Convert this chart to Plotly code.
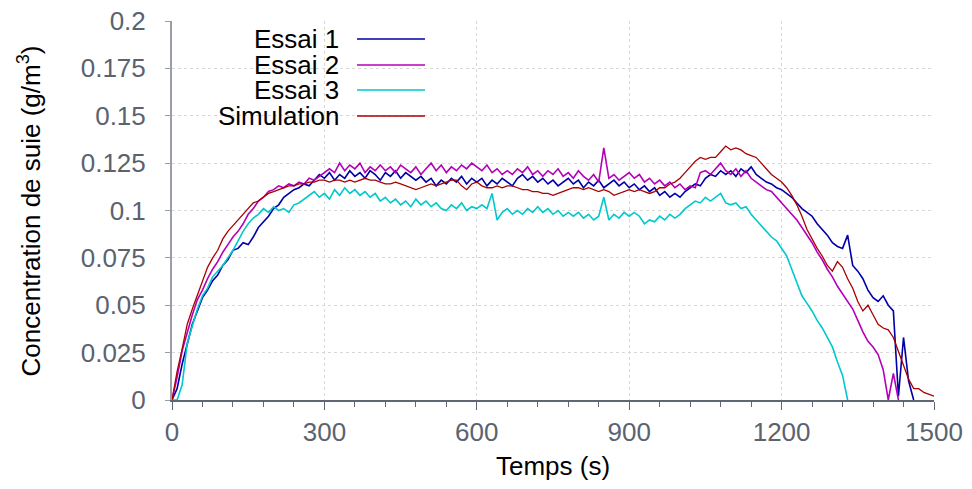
"""Concentration de suie: three tests against the simulation."""

import plotly.graph_objects as go

# sampling grid (s) shared by all series, every 10 s
temps = list(range(0, 1510, 10))

essai_1 = [
    0.000, 0.006, 0.019, 0.030, 0.040, 0.047, 0.054, 0.058, 0.063, 0.066,
    0.071, 0.074, 0.079, 0.080, 0.083, 0.082, 0.086, 0.091, 0.094, 0.097,
    0.101, 0.103, 0.107, 0.109, 0.111, 0.112, 0.114, 0.113, 0.116, 0.119,
    0.117, 0.120, 0.116, 0.119, 0.117, 0.121, 0.118, 0.120, 0.117, 0.121,
    0.119, 0.116, 0.120, 0.118, 0.121, 0.117, 0.120, 0.118, 0.116, 0.118,
    0.115, 0.117, 0.113, 0.116, 0.114, 0.117, 0.115, 0.118, 0.114, 0.117,
    0.115, 0.117, 0.113, 0.116, 0.114, 0.117, 0.115, 0.113, 0.117, 0.119,
    0.116, 0.118, 0.115, 0.117, 0.114, 0.116, 0.113, 0.115, 0.117, 0.114,
    0.116, 0.112, 0.115, 0.113, 0.116, 0.112, 0.114, 0.116, 0.113, 0.115,
    0.112, 0.114, 0.111, 0.113, 0.110, 0.112, 0.108, 0.110, 0.107, 0.109,
    0.107, 0.110, 0.112, 0.114, 0.113, 0.117, 0.119, 0.118, 0.121, 0.119,
    0.121, 0.118, 0.122, 0.120, 0.123, 0.119, 0.117, 0.115, 0.114, 0.112,
    0.111, 0.109, 0.107, 0.104, 0.101, 0.099, 0.097, 0.093, 0.090, 0.087,
    0.083, 0.081, 0.080, 0.087, 0.071, 0.068, 0.064, 0.058, 0.054, 0.052,
    0.055, 0.050, 0.047, 0.002, 0.033, 0.010, 0.000,
]

essai_2 = [
    0.000, 0.012, 0.026, 0.036, 0.045, 0.053, 0.058, 0.064, 0.069, 0.073,
    0.078, 0.082, 0.086, 0.089, 0.093, 0.098, 0.101, 0.105, 0.107, 0.110,
    0.111, 0.113, 0.112, 0.114, 0.113, 0.115, 0.114, 0.117, 0.116, 0.118,
    0.120, 0.122, 0.120, 0.125, 0.121, 0.124, 0.122, 0.125, 0.120, 0.123,
    0.121, 0.124, 0.121, 0.123, 0.120, 0.124, 0.122, 0.120, 0.123, 0.119,
    0.122, 0.125, 0.121, 0.124, 0.120, 0.123, 0.121, 0.124, 0.122, 0.125,
    0.123, 0.121, 0.124, 0.120, 0.122, 0.119, 0.121, 0.119, 0.122, 0.120,
    0.123, 0.119, 0.121, 0.118, 0.121, 0.119, 0.122, 0.118, 0.120, 0.117,
    0.121, 0.118, 0.116, 0.119, 0.115, 0.133, 0.117, 0.119, 0.116, 0.118,
    0.120, 0.117, 0.119, 0.115, 0.117, 0.114, 0.116, 0.113, 0.115, 0.112,
    0.114, 0.111, 0.113, 0.112, 0.120, 0.121, 0.119, 0.122, 0.125, 0.121,
    0.119, 0.122, 0.118, 0.121, 0.117, 0.115, 0.113, 0.111, 0.110, 0.107,
    0.104, 0.101, 0.098, 0.095, 0.091, 0.087, 0.083, 0.078, 0.074, 0.069,
    0.065, 0.060, 0.056, 0.052, 0.048, 0.042, 0.036, 0.031, 0.028, 0.024,
    0.016, 0.000, 0.014, 0.000,
]

essai_3 = [
    0.000, 0.000, 0.008, 0.030, 0.039, 0.048, 0.055, 0.059, 0.065, 0.068,
    0.071, 0.075, 0.079, 0.084, 0.089, 0.093, 0.096, 0.098, 0.101, 0.099,
    0.102, 0.100, 0.101, 0.099, 0.103, 0.104, 0.106, 0.108, 0.110, 0.107,
    0.109, 0.106, 0.111, 0.108, 0.112, 0.109, 0.111, 0.108, 0.110, 0.107,
    0.109, 0.105, 0.107, 0.104, 0.106, 0.103, 0.105, 0.102, 0.106, 0.103,
    0.105, 0.102, 0.104, 0.101, 0.100, 0.103, 0.101, 0.104, 0.100, 0.102,
    0.101, 0.103, 0.101, 0.109, 0.095, 0.099, 0.101, 0.098, 0.100, 0.098,
    0.101, 0.099, 0.102, 0.099, 0.101, 0.098, 0.100, 0.097, 0.099, 0.097,
    0.099, 0.096, 0.098, 0.095, 0.097, 0.107, 0.095, 0.098, 0.096, 0.099,
    0.097, 0.099, 0.097, 0.093, 0.095, 0.094, 0.097, 0.095, 0.098, 0.096,
    0.098, 0.101, 0.103, 0.105, 0.104, 0.107, 0.105, 0.107, 0.109, 0.104,
    0.103, 0.104, 0.101, 0.102, 0.098, 0.095, 0.092, 0.089, 0.086, 0.084,
    0.080, 0.076, 0.069, 0.062, 0.055, 0.051, 0.047, 0.042, 0.038, 0.033,
    0.028, 0.020, 0.013, 0.000,
]

simulation = [
    0.000, 0.015, 0.027, 0.040, 0.048, 0.055, 0.062, 0.070, 0.075, 0.079,
    0.085, 0.089, 0.092, 0.095, 0.098, 0.101, 0.104, 0.105, 0.107, 0.109,
    0.110, 0.111, 0.112, 0.113, 0.113, 0.114, 0.114, 0.115, 0.115, 0.116,
    0.116, 0.115, 0.116, 0.116, 0.115, 0.116, 0.115, 0.116, 0.117, 0.116,
    0.116, 0.115, 0.114, 0.114, 0.115, 0.114, 0.113, 0.112, 0.111, 0.112,
    0.113, 0.114, 0.113, 0.114, 0.115, 0.116, 0.116, 0.113, 0.111, 0.114,
    0.115, 0.113, 0.112, 0.112, 0.113, 0.112, 0.113, 0.113, 0.112, 0.111,
    0.111, 0.110, 0.110, 0.109, 0.109, 0.108, 0.109, 0.110, 0.111, 0.112,
    0.112, 0.111, 0.112, 0.111, 0.110, 0.111, 0.110, 0.108, 0.109, 0.110,
    0.111, 0.110, 0.111, 0.110, 0.109, 0.110, 0.112, 0.112, 0.114, 0.115,
    0.117, 0.120, 0.123, 0.126, 0.128, 0.127, 0.128, 0.128, 0.131, 0.134,
    0.132, 0.133, 0.132, 0.130, 0.129, 0.128, 0.125, 0.122, 0.119, 0.117,
    0.115, 0.112, 0.108, 0.103, 0.097, 0.090, 0.085, 0.080, 0.076, 0.071,
    0.068, 0.073, 0.070, 0.064, 0.059, 0.052, 0.047, 0.050, 0.045, 0.040,
    0.038, 0.037, 0.033, 0.026, 0.019, 0.011, 0.006, 0.006, 0.004, 0.003,
    0.002,
]

series_names = ["Essai 1", "Essai 2", "Essai 3", "Simulation"]
series_values = [essai_1, essai_2, essai_3, simulation]
series_colors = ["#0000a8", "#b400b8", "#00c8cc", "#a80000"]
series_widths = [1.6, 1.6, 1.6, 1.3]

x_ticks = [0, 300, 600, 900, 1200, 1500]
y_ticks = [0, 0.025, 0.05, 0.075, 0.1, 0.125, 0.15, 0.175, 0.2]

FONT = "Liberation Sans, Arial, sans-serif"

fig = go.Figure()
for name, values, color, width in zip(series_names, series_values, series_colors, series_widths):
    fig.add_trace(
        go.Scatter(
            x=temps[: len(values)],
            y=values,
            mode="lines",
            name=name,
            line={"color": color, "width": width},
            showlegend=False,
        )
    )

# legend drawn by hand: label on the left, line sample on the right
legend_y = [0.9525, 0.8839, 0.818, 0.7493]
for name, color, ly in zip(series_names, series_colors, legend_y):
    fig.add_annotation(
        x=0.222, y=ly, xref="paper", yref="paper", text=name, showarrow=False,
        xanchor="right", yanchor="middle", height=24, valign="middle",
        font={"size": 26, "color": "black", "family": FONT},
    )
    fig.add_shape(
        type="line", xref="paper", yref="paper", x0=0.2428, x1=0.332, y0=ly, y1=ly,
        line={"color": color, "width": 1.3},
    )

# axis titles as annotations so their place is fixed
fig.add_annotation(
    x=0.5, y=-0.174, xref="paper", yref="paper", text="Temps (s)", showarrow=False,
    xanchor="center", yanchor="middle", font={"size": 26, "color": "black", "family": FONT},
)
fig.add_annotation(
    x=-0.1864, y=0.5, xref="paper", yref="paper", text="Concentration de suie (g/m<sup>3</sup>)",
    showarrow=False, textangle=-90, xanchor="center", yanchor="middle",
    font={"size": 26, "color": "black", "family": FONT},
)

# the page body keeps an 8px browser margin, so the figure is 8px smaller
fig.update_layout(
    width=964,
    height=481,
    margin={"l": 164, "r": 38, "t": 13, "b": 89},
    paper_bgcolor="white",
    plot_bgcolor="white",
    font={"family": FONT, "color": "black"},
)
fig.update_xaxes(
    range=[0, 1500],
    tickvals=x_ticks,
    ticks="outside",
    ticklen=8,
    tickcolor="#5f6674",
    minor={"dtick": 60, "ticks": "outside", "ticklen": 5, "tickcolor": "#5f6674", "showgrid": False},
    tickfont={"size": 26, "color": "#5b6270"},
    ticklabelstandoff=0,
    ticklabeloverflow="allow",
    showline=True,
    linecolor="#5f6674",
    linewidth=1.5,
    showgrid=True,
    gridcolor="#d8d8d8",
    griddash="dot",
    gridwidth=1,
    zeroline=False,
    automargin=False,
)
fig.update_yaxes(
    range=[0, 0.2],
    tickvals=y_ticks,
    ticks="outside",
    ticklen=5,
    tickcolor="#9a9ea6",
    tickfont={"size": 26, "color": "#5b6270"},
    ticklabelstandoff=14,
    ticklabeloverflow="allow",
    showline=True,
    linecolor="#9a9ea6",
    linewidth=2,
    showgrid=True,
    gridcolor="#d8d8d8",
    griddash="dot",
    gridwidth=1,
    zeroline=False,
    automargin=False,
)

fig.write_html("out.html")
